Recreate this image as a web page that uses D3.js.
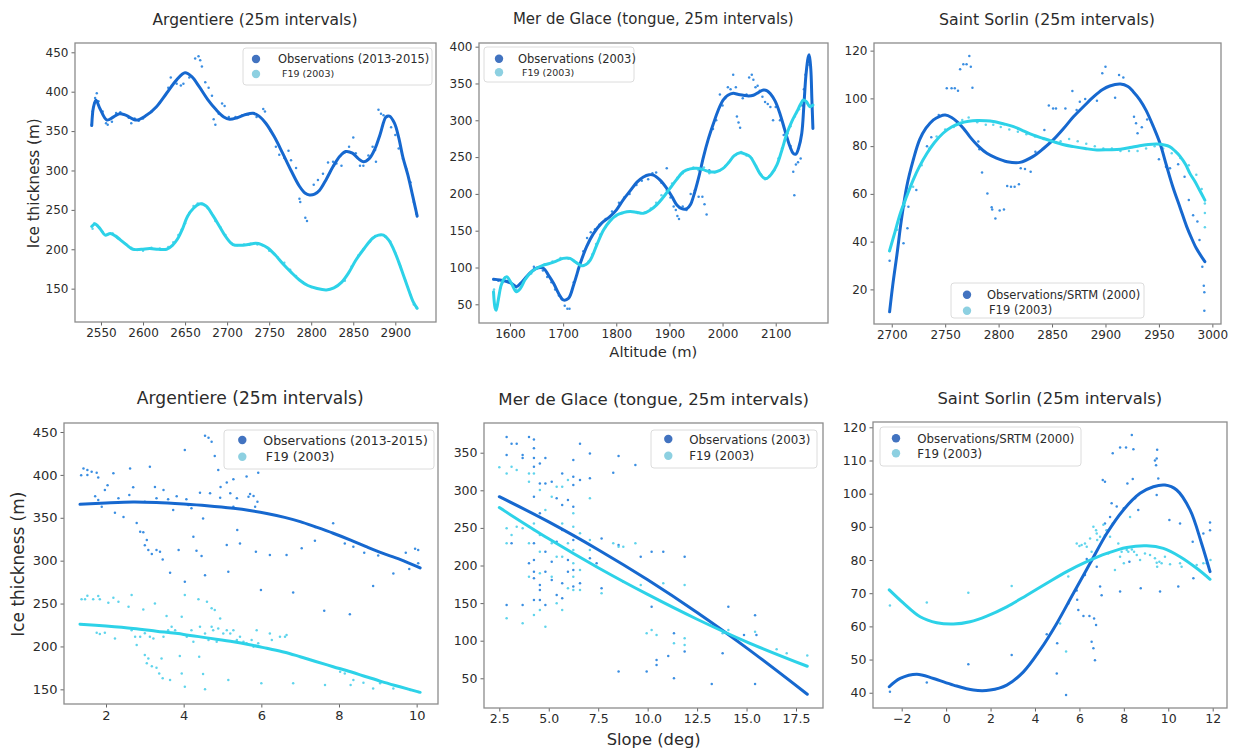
<!DOCTYPE html>
<html>
<head>
<meta charset="utf-8">
<script src="https://cdn.jsdelivr.net/npm/d3@7"></script>
<style>
  body { margin: 0; background: #fff; }
  text { font-family: "DejaVu Sans", sans-serif; fill: #2b2b2b; }
</style>
</head>
<body>
<script>
// ---------- data ----------
// Argentiere, thickness vs altitude
const argAltObsLine = [[2539,357],[2541,380],[2544,389],[2549,378],[2557,364],[2565,368],[2572,372],[2580,370],[2592,364],[2604,370],[2616,381],[2628,398],[2640,415],[2650,424],[2658,419],[2667,406],[2677,390],[2687,377],[2696,368],[2703,365],[2712,367],[2722,371],[2731,372.6],[2738,369],[2746,360],[2756,343],[2766,322],[2776,300],[2786,280],[2793,271],[2798,269],[2804,270],[2810,275],[2818,289],[2826,305],[2834,318],[2841,324],[2849,322],[2856,315],[2862,311],[2869,315],[2876,328],[2882,346],[2889,368],[2893,369],[2899,360],[2904,342],[2909,317],[2915,294],[2920,271],[2924,252],[2926,242]];
const argAltF19Line = [[2539,229],[2543,232],[2549,226],[2555,218],[2561,220],[2567,217],[2573,212],[2580,206],[2588,200],[2598,200],[2608,201],[2618,200],[2628,200],[2635,205],[2641,213],[2647,226],[2653,242],[2660,252],[2667,257.5],[2675,255],[2683,243],[2691,229],[2699,215],[2707,206],[2716,205],[2725,206],[2734,207.6],[2741,206],[2748,202],[2757,193],[2766,182],[2776,171],[2786,161],[2796,154],[2806,150.5],[2818,148.4],[2827,151],[2836,158],[2845,171],[2853,186],[2863,201],[2873,214],[2880,218],[2886,218],[2892,212],[2898,200],[2904,184],[2910,166],[2916,148],[2921,134],[2926,125]];
const argAltObsPts = [[2539,358],[2540,375],[2542,385],[2543,392],[2545,398],[2547,388],[2552,375],[2556,360],[2558,358],[2563,362],[2568,373],[2573,374],[2577,371],[2583,367],[2586,360],[2590,366],[2595,363],[2600,366],[2610,375],[2620,386],[2630,405],[2633,418],[2640,410],[2645,408],[2648,410],[2655,418],[2662,442],[2666,445],[2668,440],[2670,432],[2674,412],[2678,405],[2682,395],[2684,365],[2686,358],[2690,372],[2694,385],[2697,382],[2702,368],[2710,368],[2718,370],[2725,371],[2735,368],[2743,378],[2745,375],[2752,350],[2758,330],[2762,320],[2768,316],[2773,325],[2776,313],[2782,303],[2786,264],[2787,260],[2793,240],[2795,236],[2803,282],[2808,288],[2814,296],[2820,310],[2826,311],[2830,309],[2836,306],[2840,323],[2845,330],[2850,342],[2853,322],[2858,306],[2862,306],[2868,319],[2873,330],[2876,326],[2877,311],[2880,377],[2883,372],[2886,370],[2890,368],[2895,355],[2900,345],[2904,328],[2909,315],[2913,302],[2918,285],[2922,260],[2925,245]];
const argAltF19Pts = [[2540,226],[2542,233],[2546,230],[2552,222],[2558,219],[2564,220],[2570,214],[2578,208],[2586,202],[2593,199],[2600,198],[2610,202],[2620,201],[2630,203],[2636,209],[2642,218],[2646,225],[2650,233],[2655,246],[2660,255],[2665,258],[2670,258],[2677,252],[2681,246],[2686,236],[2692,228],[2698,218],[2705,208],[2712,205],[2720,206],[2728,207],[2736,206],[2742,205],[2750,198],[2760,190],[2768,183],[2775,174],[2782,166],[2790,158],[2800,152],[2840,160],[2848,178],[2856,192],[2862,200],[2870,210],[2876,217],[2882,218],[2888,216],[2894,210],[2900,195],[2906,178],[2912,160],[2918,142],[2922,130],[2925,126]];

// Mer de Glace, thickness vs altitude
const mdgAltObsLine = [[1569,84],[1581,83],[1594,81],[1604,78],[1612,74],[1622,80],[1631,87.5],[1640,94],[1650,99],[1663,99],[1672,90],[1682,78.5],[1692,64],[1700,56],[1710,58],[1720,77],[1732,105],[1744,128],[1757,146],[1772,160],[1788,169],[1800,178],[1813,192],[1826,204],[1839,216],[1851,223],[1862,226],[1870,225.6],[1882,219],[1895,207.5],[1905,196],[1914,185],[1923,180],[1933,180],[1940,186],[1945,196],[1955,222],[1964,250],[1973,274],[1983,296],[1992,314],[2001,327.5],[2010,334],[2020,336.6],[2030,335],[2039,334],[2049,333],[2058,334],[2068,338],[2077,341],[2084,340],[2090,336],[2099,326],[2108,309],[2117,287],[2127,264],[2133,255],[2138,254],[2143,262],[2149,282],[2153,320],[2157,362],[2161,385],[2163,389],[2166,370],[2168,330],[2170,289]];
const mdgAltF19Line = [[1569,67],[1572,45],[1574,42],[1578,56],[1583,75],[1588,84],[1594,87.5],[1603,78],[1612,67],[1620,72],[1628,83],[1639,93],[1650,99],[1662,103],[1675,105.6],[1688,109],[1700,112.4],[1713,112.4],[1724,107],[1735,102.4],[1743,104],[1751,110],[1763,130],[1776,151],[1788,163],[1801,171.3],[1813,174.5],[1826,176],[1838,175],[1851,173.6],[1864,178],[1876,185],[1888,195],[1901,207.5],[1913,219],[1926,230],[1939,234],[1951,234.7],[1963,233],[1976,230],[1988,230],[2001,234.7],[2012,243],[2022,252],[2033,256],[2043,254],[2052,250.5],[2061,240],[2070,228],[2077,222],[2083,221],[2092,227],[2102,239],[2111,258],[2121,282],[2130,298],[2140,312],[2147,322],[2152,327.5],[2158,325],[2164,318.5],[2170,320.7]];
const mdgAltObsPts = [[1570,84],[1578,82],[1586,80],[1597,82],[1607,76],[1620,78],[1630,86],[1638,92],[1645,101],[1655,100],[1662,96],[1670,87],[1678,80],[1685,70],[1692,62],[1698,57],[1703,48],[1708,44],[1712,44],[1720,80],[1728,98],[1738,122],[1745,140],[1752,148],[1760,152],[1768,158],[1780,166],[1792,176],[1805,188],[1815,195],[1825,200],[1838,212],[1848,218],[1860,220],[1868,228],[1875,229],[1885,215],[1895,235],[1902,195],[1908,183],[1912,178],[1915,170],[1918,166],[1925,183],[1932,178],[1940,200],[1948,205],[1955,196],[1962,196],[1966,186],[1970,172],[1975,232],[1982,288],[1988,300],[1995,335],[2000,320],[2005,330],[2010,345],[2015,342],[2020,362],[2025,345],[2027,305],[2030,297],[2033,290],[2038,330],[2045,335],[2050,358],[2055,362],[2058,355],[2062,345],[2066,347],[2070,340],[2075,332],[2080,325],[2085,322],[2090,318],[2095,300],[2100,318],[2108,300],[2115,280],[2122,282],[2128,265],[2133,230],[2135,198],[2138,240],[2142,243],[2147,248],[2150,320],[2153,342],[2156,362],[2160,375],[2164,380]];
const mdgAltF19Pts = [[1570,70],[1575,48],[1582,72],[1590,86],[1600,80],[1612,70],[1625,80],[1640,92],[1652,100],[1665,104],[1680,108],[1695,113],[1710,112],[1725,106],[1738,102],[1748,108],[1755,118],[1762,132],[1770,145],[1780,155],[1790,165],[1800,170],[1810,174],[1825,176],[1840,174],[1855,175],[1865,180],[1875,188],[1885,198],[1895,205],[1905,214],[1915,222],[1925,228],[1935,233],[1945,236],[1955,232],[1965,236],[1975,228],[1985,229],[1995,232],[2005,238],[2015,246],[2025,253],[2035,257],[2045,252],[2055,248],[2063,238],[2072,226],[2080,220],[2088,224],[2097,232],[2105,248],[2112,262],[2120,278],[2128,292],[2136,305],[2144,315],[2150,326],[2157,326],[2164,320]];

// Saint Sorlin, thickness vs altitude
const ssAltObsLine = [[2698,10.6],[2701,22],[2705,35],[2709,49],[2714,63],[2720,74],[2726,82.6],[2732,87.5],[2739,91],[2745,92.5],[2750,93],[2756,92],[2761,90.3],[2767,87.5],[2773,84],[2781,80],[2789,77],[2798,75],[2808,73.5],[2820,73.2],[2832,75.6],[2842,79],[2851,82.6],[2861,87.5],[2870,92.3],[2880,96.8],[2889,100.7],[2897,103.6],[2904,105.2],[2914,106],[2921,105],[2926,102.8],[2932,99.5],[2938,95],[2945,88],[2951,81.2],[2957,72],[2963,63],[2970,54],[2976,46.3],[2981,41],[2985,37.2],[2993,31.6]];
const ssAltF19Line = [[2698,36.2],[2703,44],[2708,51.8],[2714,59],[2720,65.8],[2726,71.5],[2733,77],[2740,81.5],[2748,85.4],[2756,88],[2764,89.6],[2772,90.4],[2780,90.7],[2788,90.6],[2795,90.3],[2805,89.3],[2814,88.2],[2823,86.4],[2832,84.7],[2842,83.2],[2851,81.9],[2860,80.7],[2870,79.8],[2881,79],[2892,78.4],[2903,78.5],[2914,78.7],[2923,79.4],[2932,80.2],[2940,80.7],[2948,80.9],[2955,80.5],[2960,79.8],[2965,78],[2970,75.6],[2975,72.3],[2979,68.6],[2984,65],[2988,61.6],[2993,57.4]];
const ssAltObsPts = [[2698,32],[2711,39.3],[2714.7,45.6],[2715.6,54.6],[2723,61.6],[2733,80],[2737,83.7],[2744,93],[2751.5,104.2],[2756,104.2],[2759,104.2],[2762,103.2],[2764,112.2],[2767,114.3],[2770,114.3],[2772.6,117.8],[2774,113.3],[2775.5,104.5],[2781,81.9],[2782,78.7],[2784.5,69],[2789.5,60.2],[2793.5,54.4],[2794,53.5],[2797,49.7],[2801,53],[2805,53.5],[2808,63.3],[2811.6,63],[2815,63],[2819,64],[2820.7,70.7],[2824.7,70.4],[2830,69.3],[2834.4,77.7],[2842.8,86.8],[2847,97],[2851,95.8],[2853.7,95.8],[2862.5,95.8],[2869,103.1],[2873,95.1],[2876,98.6],[2881,99.7],[2892,99],[2897,110.5],[2900,113.3],[2909,100.3],[2912.7,109.8],[2916.7,108.8],[2926.7,92.3],[2928.6,89.6],[2930,85.4],[2934,87.9],[2939,91.2],[2950,74.5],[2956.6,71.4],[2960.4,70.7],[2968,72.4],[2974,67.2],[2978,57.4],[2982,51.1],[2986,48.4],[2988,40.7],[2990.6,29.5],[2992,21.5],[2992.5,18.8],[2992.5,11]];
const ssAltF19Pts = [[2698,36],[2705,45],[2712,55],[2720,63],[2728,72],[2735,79],[2742,84],[2750,87],[2758,88],[2766,91],[2772,92],[2780,90],[2788,89],[2795,89],[2802,88],[2810,87],[2818,86],[2826,85],[2834,84],[2842,83],[2850,82],[2858,82],[2866,83],[2874,82],[2882,81],[2890,80],[2898,79],[2906,79],[2914,78],[2922,78],[2930,78],[2938,79],[2946,80],[2954,79],[2962,77],[2970,75],[2978,72],[2985,68],[2990,62],[2993,56],[2993,52],[2993,46]];

// Argentiere, thickness vs slope
const argSlpObsLine = [[1.33,365.7],[2.0,367.3],[2.7,368.4],[3.3,367.8],[4.0,366],[4.6,364],[5.28,361],[5.7,358.5],[6.14,355],[6.6,350.5],[7.0,345.5],[7.4,339.3],[7.85,332],[8.3,324],[8.7,316.3],[9.1,309],[9.57,301.5],[10.09,291.5]];
const argSlpF19Line = [[1.33,226],[2.0,223.8],[2.7,221],[3.3,217.8],[4.0,214],[4.6,210],[5.28,205.5],[5.7,202],[6.14,197.8],[6.6,193.3],[7.0,188],[7.4,182.5],[7.85,176.4],[8.3,170.5],[8.7,164.7],[9.1,159],[9.57,153],[10.09,146.5]];
const argSlpObsPts = [[1.36,399.5],[1.42,407.6],[1.52,405.7],[1.52,400],[1.63,403.7],[1.76,402.6],[1.8,397],[1.72,375],[1.8,370.7],[1.89,363],[1.97,382.4],[2.04,388],[2.19,401.8],[2.23,356],[2.32,372.7],[2.45,351],[2.62,407.6],[2.6,376.5],[2.7,385.5],[2.79,344],[2.88,333.8],[2.96,333],[3.0,318],[3.05,324],[3.09,312.4],[3.18,307.8],[3.3,312.4],[3.39,310.5],[3.46,301.5],[3.26,386],[3.0,368.8],[3.13,409.6],[3.3,372.7],[3.48,382.4],[3.6,371.5],[3.65,286],[3.73,359],[3.82,375],[3.87,312.4],[4.03,275.5],[4.03,429],[4.07,371.5],[4.12,365],[4.2,361],[4.25,328],[4.33,311.6],[4.42,379.3],[4.46,305.4],[4.5,349.3],[4.55,283],[4.55,445.7],[4.64,443.4],[4.68,378.5],[4.72,438.7],[4.8,422],[4.89,405.7],[4.94,373.4],[4.95,386],[5.11,391],[5.15,287],[5.11,318.2],[5.2,378.5],[5.28,395],[5.28,363],[5.37,372.7],[5.38,335.7],[5.45,320],[5.62,398],[5.67,374.6],[5.71,377.7],[5.8,375.4],[5.84,363],[5.9,368.8],[5.92,402.6],[5.86,310.5],[5.99,265.8],[6.22,306.6],[6.65,306.6],[6.82,263],[7.04,314.4],[7.38,323.3],[7.62,241.7],[7.85,343.5],[8.15,320],[8.28,237.4],[8.37,316.3],[8.65,309.3],[8.88,270.4],[9.01,306],[9.4,285],[9.72,309.3],[9.81,290.3],[9.96,314],[10.04,312.4],[10.04,297]];
const argSlpF19Pts = [[1.37,255],[1.46,255],[1.52,259],[1.67,255],[1.8,258.8],[1.84,255],[1.76,216],[1.84,214.5],[1.97,216],[2.06,251],[2.19,256.8],[2.23,209.4],[2.32,252],[2.58,246.4],[2.66,260],[2.66,219],[2.75,211.4],[2.79,201.6],[2.88,211.4],[2.96,243],[3.0,215.3],[3.0,190],[3.05,180.3],[3.09,186],[3.13,211.4],[3.18,177],[3.22,209.4],[3.26,250.2],[3.3,175.2],[3.37,168.6],[3.43,186],[3.46,162.8],[3.48,211.4],[3.56,235.5],[3.6,219],[3.65,160.8],[3.69,223],[3.78,219],[3.87,215],[3.9,188.8],[3.95,234.7],[3.95,168.6],[4.03,260],[4.03,153],[4.08,211.4],[4.2,219],[4.25,205.5],[4.38,255],[4.4,188],[4.42,223],[4.5,167.8],[4.55,215],[4.55,150],[4.6,252],[4.64,207.5],[4.72,244.4],[4.72,223],[4.76,219],[4.8,242.4],[4.85,205.5],[4.89,221],[4.94,232.7],[5.02,215],[5.11,219],[5.15,161],[5.2,215],[5.28,219],[5.33,205.5],[5.37,207.5],[5.45,211.4],[5.54,205.5],[5.62,203.6],[5.75,207.5],[5.8,199.7],[5.88,219],[5.92,203.6],[6.0,157],[6.22,215],[6.27,207.5],[6.48,211.4],[6.61,211.4],[6.65,213.3],[6.82,157],[7.64,155],[8.03,170.6],[8.15,168.6],[8.3,155],[8.37,160.8],[8.63,157.7],[8.88,151],[9.06,157],[9.4,151],[9.83,149.2],[10.04,147]];

// Mer de Glace, thickness vs slope
const mdgSlpObsLine = [[2.5,291.5],[5,258],[7.5,221],[10,181],[12.5,137.5],[15,90.5],[18.07,28.8]];
const mdgSlpF19Line = [[2.5,277],[5,235.5],[7.5,197],[10,161.5],[12.5,128.5],[15,98.5],[18.07,66]];
const mdgSlpObsPts = [[2.87,371],[2.87,347],[2.87,147.5],[3.12,362],[3.38,362],[3.12,229.5],[3.68,347],[3.68,343],[3.68,147.5],[4.0,371],[4.0,203],[4.25,367.7],[4.25,355.8],[4.25,343],[4.25,331.4],[4.25,291.5],[4.25,229.5],[4.25,207.3],[4.25,191.8],[4.25,183],[4.25,154],[4.55,335.8],[4.55,309.2],[4.55,269.4],[4.55,174],[4.55,167.5],[4.55,154],[4.83,343],[4.83,309.2],[4.83,218.4],[4.83,191.8],[4.83,147.5],[5.15,311.5],[5.15,180.7],[5.15,205],[5.4,289.3],[5.4,231.7],[5.4,160.8],[5.68,322.5],[5.68,280.4],[5.68,247.2],[5.68,176.3],[5.68,156.4],[5.97,287],[5.97,207.3],[5.97,191.8],[6.24,340.3],[6.24,318],[6.24,307],[6.24,278.2],[6.24,234],[6.24,194],[6.24,172],[6.58,362],[6.58,313.7],[6.58,176.3],[7.08,349],[7.08,316],[7.08,209.5],[7.42,203],[7.67,236],[7.67,169.7],[8.26,323.4],[8.53,345.6],[8.53,227.3],[8.53,58.9],[9.38,333.6],[9.65,211.8],[9.95,58.9],[10.2,145.3],[10.2,218.4],[10.45,74.4],[10.45,67.8],[10.79,218.4],[11.04,79.7],[11.33,50],[11.33,109.9],[11.87,211.8],[11.87,85.5],[13.24,42.5],[13.79,83.3],[14.08,145.3],[14.87,107.6],[15.43,134],[15.43,42.5],[15.5,107.6]];
const mdgSlpF19Pts = [[2.5,330.5],[2.87,322.5],[2.87,249.4],[2.87,229.5],[2.87,129.8],[3.12,331.4],[3.12,240.6],[3.38,327],[3.38,251.6],[3.68,249.4],[3.68,123.2],[4.0,322.5],[4.0,311.5],[4.0,251.6],[4.0,229.5],[4.0,185.2],[4.25,322.5],[4.25,256],[4.25,247.2],[4.25,134.2],[4.55,300.4],[4.55,240.6],[4.55,218.4],[4.55,189.6],[4.55,140.9],[4.83,273.8],[4.83,118.7],[5.15,291.5],[5.15,229.5],[5.15,185.2],[5.4,304.8],[5.4,211.8],[5.4,149.7],[5.68,304.8],[5.68,256],[5.68,211.8],[5.68,140.9],[5.97,313.7],[5.97,229.5],[5.97,169.7],[6.24,269.4],[6.24,251.6],[6.24,220.6],[6.24,203],[6.24,185.2],[6.24,167.5],[6.58,242.8],[6.58,194],[6.58,167.5],[7.08,289.3],[7.08,234],[7.08,220.6],[7.42,198.5],[7.67,163],[8.26,229.5],[8.53,225],[8.77,225],[8.77,178.5],[9.38,229.5],[9.65,174],[9.95,109.9],[10.2,114.3],[10.45,107.6],[10.79,176.3],[11.33,96.6],[11.87,103.2],[11.87,94.4],[11.87,174],[13.79,109.9],[14.08,114.3],[15.43,112],[16.52,88.6],[17.03,83.3],[18.07,80.2]];

// Saint Sorlin, thickness vs slope
const ssSlpObsLine = [[-2.56,41.8],[-2.07,44.3],[-1.32,45.6],[-0.57,44.3],[0.33,42.3],[1.23,40.8],[1.98,40.8],[2.73,42.3],[3.48,46.3],[4.23,52.9],[4.98,60.9],[5.73,70],[6.48,79],[7.23,88],[7.98,95.1],[8.73,100.1],[9.33,102.1],[9.85,102.6],[10.38,101.1],[10.98,95.1],[11.5,85],[11.88,76.5]];
const ssSlpF19Line = [[-2.56,71],[-1.92,67],[-1.17,62.9],[-0.42,61.1],[0.33,60.7],[1.08,61.4],[1.83,63.1],[2.73,65.9],[3.63,69.4],[4.53,73],[5.43,76.5],[6.33,79.5],[7.23,82],[8.13,83.8],[9.03,84.3],[9.78,83.5],[10.53,81],[11.28,77.5],[11.88,74.2]];
const ssSlpObsPts = [[-2.53,40.3],[-0.87,43.1],[1.0,48.6],[2.95,51.4],[4.53,57.6],[4.98,45.8],[5.0,54.9],[5.4,39.3],[5.5,66.9],[5.88,70.8],[5.9,68],[5.95,64.9],[6.18,63.1],[6.25,75.5],[6.33,80.3],[6.45,63.1],[6.55,55.4],[6.63,53.4],[6.66,62.4],[6.7,49.8],[6.75,60.4],[6.78,78],[6.93,72],[7.05,104.1],[7.15,103.6],[7.0,69.4],[7.15,91],[7.23,89],[7.38,93],[7.45,97.1],[7.5,112.2],[7.68,96.1],[7.83,113.9],[7.83,70.5],[8.0,95.6],[8.1,113.9],[8.16,103.1],[8.25,79.5],[8.36,117.7],[8.4,104.4],[8.43,113.4],[8.5,98.6],[8.65,95.1],[8.76,71.5],[9.4,110],[9.45,108.6],[9.48,110.6],[9.5,113.2],[9.55,104.6],[9.48,99.6],[9.63,70.5],[10.05,92.1],[10.45,72],[10.53,91],[11.1,85.5],[11.13,74.5],[11.58,88],[11.88,91.3],[11.88,89]];
const ssSlpF19Pts = [[-2.53,66.3],[-0.87,67.2],[1.0,70.1],[2.95,72.2],[5.13,60.9],[5.4,52.4],[5.5,75],[5.88,85],[6.0,84.2],[6.1,84.5],[6.25,85],[6.33,84],[6.48,86.5],[6.55,82.5],[6.63,90],[6.75,89],[6.78,88],[6.8,86],[6.93,87],[7.08,90.6],[7.15,87.5],[7.23,89],[7.3,82],[7.38,87],[7.5,91],[7.6,77],[7.75,85],[7.83,81],[7.9,82.5],[8.0,79],[8.13,83],[8.2,82.5],[8.28,93],[8.36,83.2],[8.46,82.5],[8.58,81.5],[8.73,80],[8.95,82],[9.18,81.5],[9.4,80.5],[9.48,79.2],[9.5,78],[9.6,79.5],[9.7,79],[9.85,81],[10.08,78.7],[10.53,79],[10.6,78],[11.28,78.5],[11.58,79],[11.73,79],[11.9,80]];

// tick values
const argAltTicksX = [2550,2600,2650,2700,2750,2800,2850,2900];
const argAltTicksY = [150,200,250,300,350,400,450];
const mdgAltTicksX = [1600,1700,1800,1900,2000,2100];
const mdgAltTicksY = [50,100,150,200,250,300,350,400];
const ssAltTicksX = [2700,2750,2800,2850,2900,2950,3000];
const ssAltTicksY = [20,40,60,80,100,120];
const argSlpTicksX = [2,4,6,8,10];
const argSlpTicksY = [150,200,250,300,350,400,450];
const mdgSlpTicksX = [2.5,5,7.5,10,12.5,15,17.5];
const mdgSlpTicksY = [50,100,150,200,250,300,350];
const ssSlpTicksX = [-2,0,2,4,6,8,10,12];
const ssSlpTicksY = [40,50,60,70,80,90,100,110,120];

// ---------- drawing ----------
const colObsLine = "#1668cf", colF19Line = "#2dd2e8";
const colObsDot = "#3a8ee2", colF19Dot = "#5fd4ec";
const colObsLeg = "#4273c0", colF19Leg = "#8dd0e1";

const svg = d3.select("body").append("svg")
    .attr("width", 1240)
    .attr("height", 749);

const fitText = (t, w) => {
    const len = t.node().getComputedTextLength();
    t.attr("font-size", parseFloat(t.attr("font-size")) * w / len);
};

const minus = d => d < 0 ? "\u2212" + Math.abs(d) : String(d);

const drawPanel = (p) => {
    const x = d3.scaleLinear().domain(p.xDom).range([p.box[0], p.box[2]]);
    const y = d3.scaleLinear().domain(p.yDom).range([p.box[3], p.box[1]]);
    const g = svg.append("g");

    // scatter first, fitted curves over it
    p.pts.forEach(s => {
        g.append("g").selectAll("circle")
            .data(s.data)
            .enter()
            .append("circle")
            .attr("cx", d => x(d[0]))
            .attr("cy", d => y(d[1]))
            .attr("r", 1.25)
            .attr("fill", s.color);
    });
    const line = d3.line().x(d => x(d[0])).y(d => y(d[1])).curve(d3.curveCatmullRom.alpha(0.5));
    p.lines.forEach(s => {
        g.append("path")
            .datum(s.data)
            .attr("d", line)
            .attr("fill", "none")
            .attr("stroke", s.color)
            .attr("stroke-width", 3)
            .attr("stroke-linecap", "round");
    });

    const xAxis = d3.axisBottom(x).tickValues(p.xTicks).tickSize(3.5).tickPadding(3).tickFormat(p.xFmt || minus);
    const yAxis = d3.axisLeft(y).tickValues(p.yTicks).tickSize(3.5).tickPadding(3).tickFormat(minus);
    [g.append("g").attr("transform", `translate(0, ${p.box[3]})`).call(xAxis),
     g.append("g").attr("transform", `translate(${p.box[0]}, 0)`).call(yAxis)].forEach(a => {
        a.select(".domain").remove();
        a.selectAll(".tick line").attr("stroke", "#666");
        a.selectAll(".tick text")
            .attr("fill", "#2b2b2b")
            .style("font-family", "DejaVu Sans")
            .style("font-size", p.tickFont + "px");
    });

    g.append("rect")
        .attr("x", p.box[0]).attr("y", p.box[1])
        .attr("width", p.box[2] - p.box[0]).attr("height", p.box[3] - p.box[1])
        .attr("fill", "none").attr("stroke", "#8c8c8c").attr("stroke-width", 1.3);

    const title = svg.append("text")
        .attr("x", p.title.x).attr("y", p.title.y)
        .attr("text-anchor", "middle")
        .attr("font-size", 16)
        .text(p.title.text);
    fitText(title, p.title.w);

    // legend
    const L = p.legend;
    svg.append("rect")
        .attr("x", L.box[0]).attr("y", L.box[1])
        .attr("width", L.box[2] - L.box[0]).attr("height", L.box[3] - L.box[1])
        .attr("rx", 3)
        .attr("fill", "#fff").attr("fill-opacity", 0.85)
        .attr("stroke", "#dcdcdc");
    L.rows.forEach((r, i) => {
        svg.append("circle")
            .attr("cx", L.mx).attr("cy", r.my)
            .attr("r", 4.2)
            .attr("fill", i === 0 ? colObsLeg : colF19Leg);
        svg.append("text")
            .attr("x", r.tx).attr("y", r.ty)
            .attr("font-size", r.fs)
            .text(r.text);
    });
};

const panels = [
    {
        box: [75, 43, 436, 322], xDom: [2519.1, 2948.4], yDom: [107.7, 461.8],
        xTicks: argAltTicksX, yTicks: argAltTicksY, tickFont: 12,
        lines: [{data: argAltObsLine, color: colObsLine}, {data: argAltF19Line, color: colF19Line}],
        pts: [{data: argAltObsPts, color: colObsDot}, {data: argAltF19Pts, color: colF19Dot}],
        title: {text: "Argentiere (25m intervals)", x: 255, y: 25, w: 205},
        legend: {box: [243, 48, 432, 85], mx: 256,
            rows: [{text: "Observations (2013-2015)", my: 59, tx: 278, ty: 63, fs: 11.5},
                   {text: "F19 (2003)", my: 74, tx: 282, ty: 77, fs: 9.5}]}
    },
    {
        box: [479, 43, 828, 323], xDom: [1541.7, 2198.4], yDom: [24.6, 405],
        xTicks: mdgAltTicksX, yTicks: mdgAltTicksY, tickFont: 12,
        lines: [{data: mdgAltObsLine, color: colObsLine}, {data: mdgAltF19Line, color: colF19Line}],
        pts: [{data: mdgAltObsPts, color: colObsDot}, {data: mdgAltF19Pts, color: colF19Dot}],
        title: {text: "Mer de Glace (tongue, 25m intervals)", x: 653.3, y: 24, w: 281},
        legend: {box: [484, 47, 634, 82], mx: 499,
            rows: [{text: "Observations (2003)", my: 58.7, tx: 518, ty: 62.5, fs: 11.5},
                   {text: "F19 (2003)", my: 72.3, tx: 522, ty: 76, fs: 9.5}]}
    },
    {
        box: [874, 43, 1221, 324], xDom: [2683.4, 3008.1], yDom: [5.5, 123.2],
        xTicks: ssAltTicksX, yTicks: ssAltTicksY, tickFont: 12,
        lines: [{data: ssAltObsLine, color: colObsLine}, {data: ssAltF19Line, color: colF19Line}],
        pts: [{data: ssAltObsPts, color: colObsDot}, {data: ssAltF19Pts, color: colF19Dot}],
        title: {text: "Saint Sorlin (25m intervals)", x: 1047, y: 25, w: 216},
        legend: {box: [951, 283, 1144, 318], mx: 967,
            rows: [{text: "Observations/SRTM (2000)", my: 294.7, tx: 987, ty: 298.5, fs: 11.5},
                   {text: "F19 (2003)", my: 310.7, tx: 989, ty: 313.5, fs: 11.5}]}
    },
    {
        box: [64, 423, 438, 704], xDom: [0.918, 10.55], yDom: [132.9, 460.5],
        xTicks: argSlpTicksX, yTicks: argSlpTicksY, tickFont: 13,
        lines: [{data: argSlpObsLine, color: colObsLine}, {data: argSlpF19Line, color: colF19Line}],
        pts: [{data: argSlpObsPts, color: colObsDot}, {data: argSlpF19Pts, color: colF19Dot}],
        title: {text: "Argentiere (25m intervals)", x: 250.3, y: 403.5, w: 227},
        legend: {box: [224, 430, 434, 469], mx: 242.3,
            rows: [{text: "Observations (2013-2015)", my: 440, tx: 263.3, ty: 444.5, fs: 12.5},
                   {text: "F19 (2003)", my: 456.7, tx: 265.7, ty: 461, fs: 12.5}]}
    },
    {
        box: [484, 423, 823, 708], xDom: [1.726, 18.865], yDom: [10.5, 389.5],
        xTicks: mdgSlpTicksX, yTicks: mdgSlpTicksY, tickFont: 12.5, xFmt: d3.format(".1f"),
        lines: [{data: mdgSlpObsLine, color: colObsLine}, {data: mdgSlpF19Line, color: colF19Line}],
        pts: [{data: mdgSlpObsPts, color: colObsDot}, {data: mdgSlpF19Pts, color: colF19Dot}],
        title: {text: "Mer de Glace (tongue, 25m intervals)", x: 653.7, y: 405, w: 311},
        legend: {box: [651, 430, 817, 468], mx: 668.3,
            rows: [{text: "Observations (2003)", my: 439, tx: 689.3, ty: 443.5, fs: 11.8},
                   {text: "F19 (2003)", my: 455.7, tx: 689.3, ty: 460, fs: 11.8}]}
    },
    {
        box: [873, 422, 1227, 708], xDom: [-3.292, 12.644], yDom: [35.4, 121.6],
        xTicks: ssSlpTicksX, yTicks: ssSlpTicksY, tickFont: 12.5,
        lines: [{data: ssSlpObsLine, color: colObsLine}, {data: ssSlpF19Line, color: colF19Line}],
        pts: [{data: ssSlpObsPts, color: colObsDot}, {data: ssSlpF19Pts, color: colF19Dot}],
        title: {text: "Saint Sorlin (25m intervals)", x: 1049.8, y: 403.5, w: 225},
        legend: {box: [880, 427, 1081, 466], mx: 896,
            rows: [{text: "Observations/SRTM (2000)", my: 438.3, tx: 917.3, ty: 442.5, fs: 11.8},
                   {text: "F19 (2003)", my: 453.3, tx: 917.3, ty: 457.5, fs: 11.8}]}
    }
];

panels.forEach(drawPanel);

// axis labels
const yLab1 = svg.append("text")
    .attr("transform", "translate(39, 183.3) rotate(-90)")
    .attr("text-anchor", "middle").attr("font-size", 16)
    .text("Ice thickness (m)");
fitText(yLab1, 130);
const yLab2 = svg.append("text")
    .attr("transform", "translate(24, 564.2) rotate(-90)")
    .attr("text-anchor", "middle").attr("font-size", 18)
    .text("Ice thickness (m)");
fitText(yLab2, 145);
const xLab1 = svg.append("text")
    .attr("x", 653.3).attr("y", 356.5)
    .attr("text-anchor", "middle").attr("font-size", 16)
    .text("Altitude (m)");
fitText(xLab1, 88);
const xLab2 = svg.append("text")
    .attr("x", 653.7).attr("y", 744.5)
    .attr("text-anchor", "middle").attr("font-size", 16)
    .text("Slope (deg)");
fitText(xLab2, 94);
</script>
</body>
</html>
